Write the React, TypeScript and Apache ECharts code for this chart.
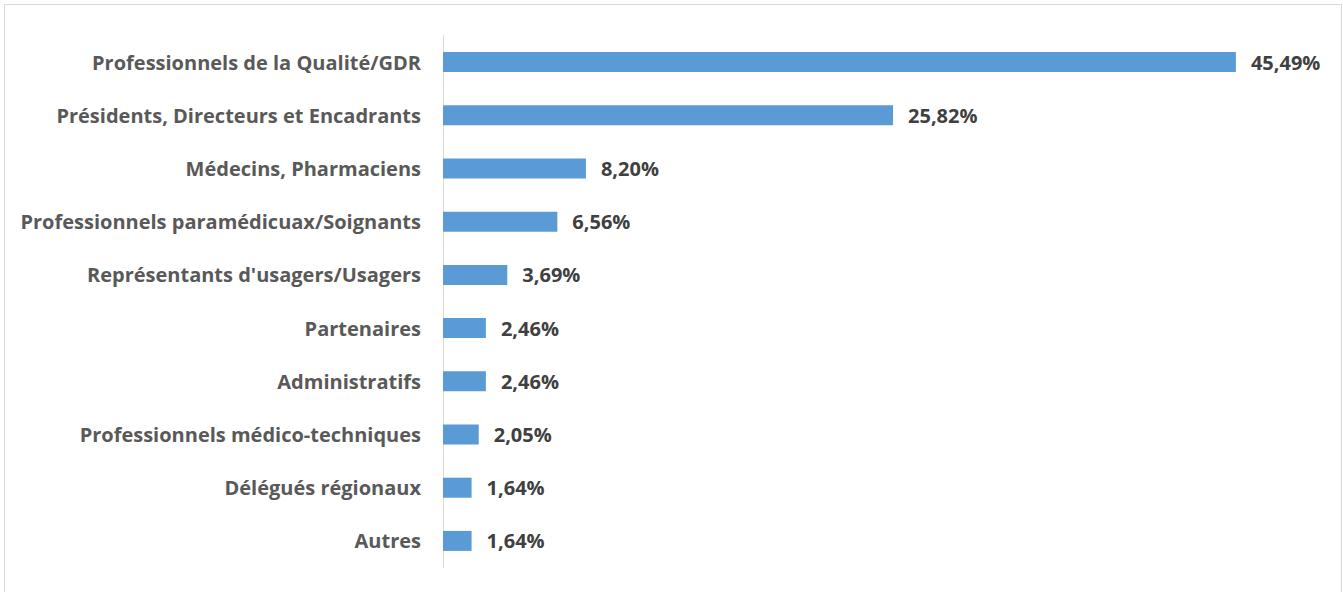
import React, { useEffect, useRef } from "react";
import * as echarts from "echarts";

const categories = [
  "Professionnels de la Qualité/GDR",
  "Présidents, Directeurs et Encadrants",
  "Médecins, Pharmaciens",
  "Professionnels paramédicuax/Soignants",
  "Représentants d'usagers/Usagers",
  "Partenaires",
  "Administratifs",
  "Professionnels médico-techniques",
  "Délégués régionaux",
  "Autres",
];
const values = [45.49, 25.82, 8.2, 6.56, 3.69, 2.46, 2.46, 2.05, 1.64, 1.64];

export default function App() {
  const ref = useRef<HTMLDivElement>(null);
  useEffect(() => {
    if (!ref.current) return;
    const chart = echarts.init(ref.current, null, { renderer: "svg" });
    const font = "'Open Sans', Lato, sans-serif";
    chart.setOption({
      animation: false,
      backgroundColor: "#ffffff",
      grid: { left: 443, top: 35.5, width: 871.5, height: 532, containLabel: false },
      xAxis: {
        type: "value",
        min: 0,
        max: 50,
        show: false,
      },
      yAxis: {
        type: "category",
        inverse: true,
        data: categories,
        axisLine: { show: true, lineStyle: { color: "#d9d9d9", width: 1 } },
        axisTick: { show: false },
        axisLabel: {
          margin: 22,
          color: "#595959",
          fontFamily: font,
          fontWeight: "bold",
          fontSize: 20,
        },
      },
      series: [
        {
          type: "bar",
          data: values,
          barWidth: 20,
          itemStyle: { color: "#5b9bd5" },
          label: {
            show: true,
            position: "right",
            distance: 15,
            color: "#404040",
            fontFamily: font,
            fontWeight: "bold",
            fontSize: 20,
            formatter: (p: any) => p.value.toFixed(2).replace(".", ",") + "%",
          },
        },
      ],
      graphic: [
        {
          type: "rect",
          shape: { x: 4.5, y: 4.5, width: 1337, height: 620 },
          style: { fill: "none", stroke: "#d9d9d9", lineWidth: 1 },
          silent: true,
        },
      ],
    });
    return () => chart.dispose();
  }, []);
  return (
    <div
      ref={ref}
      style={{ position: "absolute", left: 0, top: 0, width: 1343, height: 592 }}
    />
  );
}
